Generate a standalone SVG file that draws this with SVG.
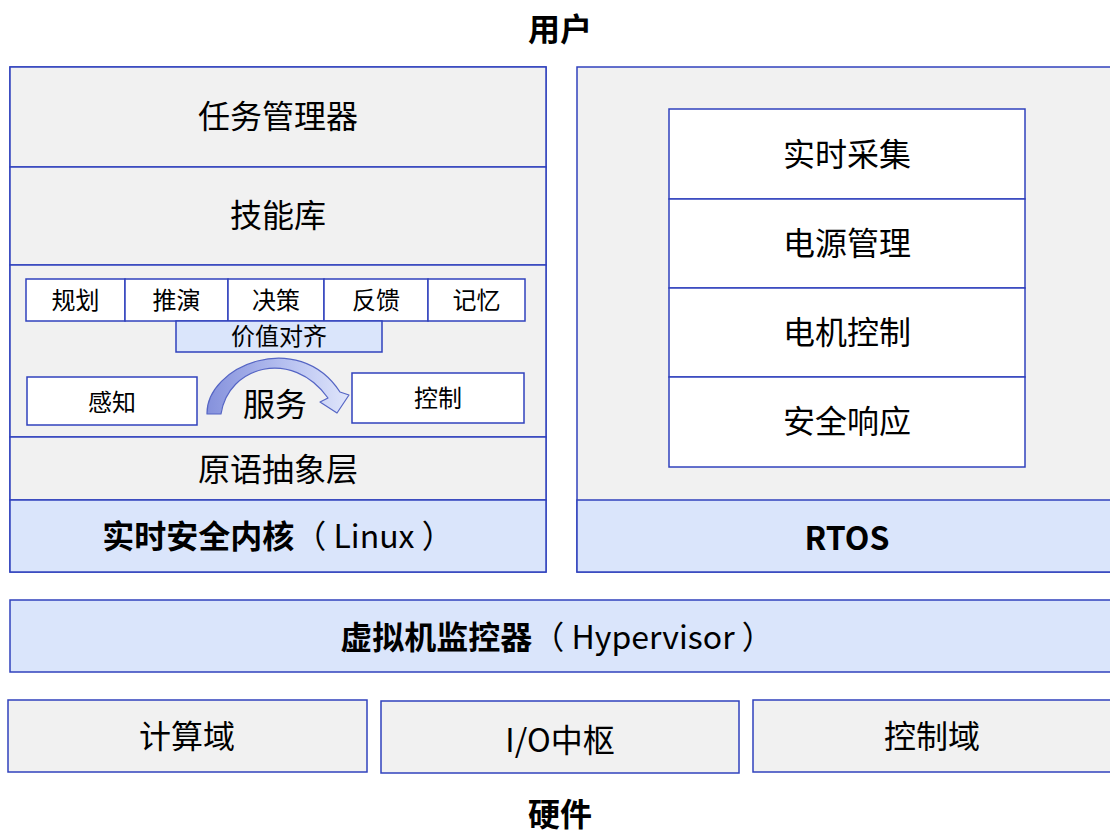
<svg xmlns="http://www.w3.org/2000/svg" width="1110" height="839" viewBox="0 0 1110 839">
  <style>
    text { font-family: "Noto Sans CJK SC", "Noto Sans", sans-serif; fill: #000; text-anchor: middle; dominant-baseline: central; }
    .t32 { font-size: 32px; }
    .t24 { font-size: 24px; }
    .b { font-weight: bold; }
    .gray { fill: #f1f1f1; stroke: #3142bd; stroke-width: 1.5; }
    .blue { fill: #dae5fb; stroke: #3142bd; stroke-width: 1.5; }
    .white { fill: #ffffff; stroke: #3142bd; stroke-width: 1.5; }
    .n { font-weight: normal; }
  </style>
  <defs>
    <linearGradient id="arcFill" x1="0" y1="0" x2="1" y2="0">
      <stop offset="0" stop-color="#8591dc"/>
      <stop offset="0.55" stop-color="#b6c0f0"/>
      <stop offset="1" stop-color="#e0e6fb"/>
    </linearGradient>
  </defs>
  <rect width="1110" height="839" fill="#ffffff"/>

  <text id="title-user" class="t32 b" x="560" y="27">用户</text>

  <!-- left stack -->
  <g id="left-panel">
    <rect class="gray" x="10" y="67" width="536" height="505"/>
  </g>
  <g id="task-manager">
    <rect class="gray" x="10" y="67" width="536" height="100"/>
    <text class="t32" x="278" y="114">任务管理器</text>
  </g>
  <g id="skill-library">
    <rect class="gray" x="10" y="167" width="536" height="98"/>
    <text class="t32" x="278" y="213">技能库</text>
  </g>
  <g id="service-layer">
    <rect class="gray" x="10" y="265" width="536" height="172"/>
  </g>
  <g id="planning">
    <rect class="white" x="26" y="279" width="99" height="42"/>
    <text class="t24" x="75.5" y="298">规划</text>
  </g>
  <g id="deduction">
    <rect class="white" x="125" y="279" width="103" height="42"/>
    <text class="t24" x="176.5" y="298">推演</text>
  </g>
  <g id="decision">
    <rect class="white" x="228" y="279" width="96" height="42"/>
    <text class="t24" x="276" y="298">决策</text>
  </g>
  <g id="feedback">
    <rect class="white" x="324" y="279" width="104" height="42"/>
    <text class="t24" x="376" y="298">反馈</text>
  </g>
  <g id="memory">
    <rect class="white" x="428" y="279" width="97" height="42"/>
    <text class="t24" x="476.5" y="298">记忆</text>
  </g>
  <g id="value-alignment">
    <rect class="blue" x="176" y="321" width="206" height="31"/>
    <text class="t24" x="279" y="334">价值对齐</text>
  </g>
  <g id="perception">
    <rect class="white" x="27" y="377" width="170" height="48"/>
    <text class="t24" x="112" y="400">感知</text>
  </g>
  <g id="control">
    <rect class="white" x="352" y="373" width="172" height="50"/>
    <text class="t24" x="438" y="396">控制</text>
  </g>
  <g id="service-label">
    <text class="t32" x="275" y="402">服务</text>
  </g>
  <g id="primitive-layer">
    <rect class="gray" x="10" y="437" width="536" height="63"/>
    <text class="t32" x="278" y="467">原语抽象层</text>
  </g>
  <g id="rt-kernel">
    <rect class="blue" x="10" y="500" width="536" height="72"/>
    <text class="t32 b" x="278" y="534">实时安全内核<tspan class="n">（ Linux ）</tspan></text>
  </g>

  <!-- right stack -->
  <g id="right-panel">
    <rect class="gray" x="577" y="67" width="600" height="505"/>
  </g>
  <g id="rt-acquisition">
    <rect class="white" x="669" y="109" width="356" height="90"/>
    <text class="t32" x="847" y="152">实时采集</text>
  </g>
  <g id="power-management">
    <rect class="white" x="669" y="199" width="356" height="89"/>
    <text class="t32" x="847" y="241">电源管理</text>
  </g>
  <g id="motor-control">
    <rect class="white" x="669" y="288" width="356" height="89"/>
    <text class="t32" x="847" y="330">电机控制</text>
  </g>
  <g id="safety-response">
    <rect class="white" x="669" y="377" width="356" height="90"/>
    <text class="t32" x="847" y="419">安全响应</text>
  </g>
  <g id="rtos">
    <rect class="blue" x="577" y="500" width="600" height="72"/>
    <text class="t32 b" x="847" y="536">RTOS</text>
  </g>

  <!-- hypervisor -->
  <g id="hypervisor">
    <rect class="blue" x="10" y="600" width="1150" height="72"/>
    <text class="t32 b" x="557" y="635">虚拟机监控器<tspan class="n">（ Hypervisor ）</tspan></text>
  </g>

  <!-- hardware domains -->
  <g id="compute-domain">
    <rect class="gray" x="8" y="700" width="359" height="72"/>
    <text class="t32" x="187" y="734">计算域</text>
  </g>
  <g id="io-hub">
    <rect class="gray" x="381" y="701" width="358" height="72"/>
    <text class="t32" x="560" y="738">I/O中枢</text>
  </g>
  <g id="control-domain">
    <rect class="gray" x="753" y="700" width="400" height="72"/>
    <text class="t32" x="932" y="734">控制域</text>
  </g>

  <text id="title-hardware" class="t32 b" x="560" y="812">硬件</text>

  <!-- connectors -->
  <g id="connectors">
    <path d="M 207 414 C 206 366, 298 328, 340 392 L 349 395 L 337 413 L 320 402 L 328 398 C 292 348, 228 366, 221 414 Z"
          fill="url(#arcFill)" stroke="#5565c4" stroke-width="1.2" stroke-linejoin="round"/>
  </g>
</svg>
